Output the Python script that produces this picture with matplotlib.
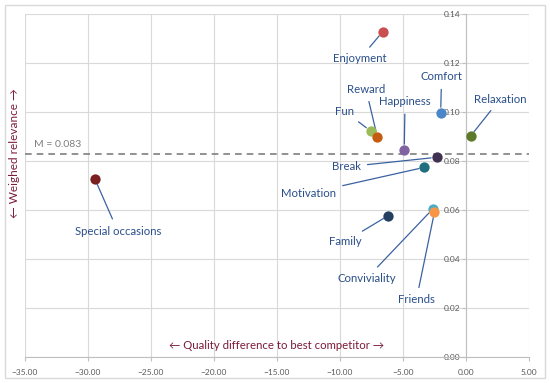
import matplotlib
matplotlib.use("Agg")
from matplotlib import pyplot as plt

plt.rcParams['font.family'] = ['Lato', 'DejaVu Sans']

names = ["Enjoyment", "Comfort", "Relaxation", "Fun", "Reward", "Happiness",
         "Break", "Motivation", "Family", "Conviviality", "Friends",
         "Special occasions"]
quality = [-6.61, -2.01, 0.37, -7.56, -7.04, -4.90, -2.33, -3.31, -6.17,
           -2.64, -2.50, -29.44]
relevance = [0.1328, 0.0997, 0.0902, 0.0922, 0.0899, 0.0846, 0.0815, 0.0774,
             0.0577, 0.0604, 0.0592, 0.0725]
colors = ["#C9504F", "#4A86C8", "#5C7A29", "#9BBB59", "#C55A11", "#8064A2",
          "#403152", "#1F6E7F", "#243F60", "#4BACC6", "#F79646", "#7B2020"]
# where each label sits (data coords)
label_x = [-8.41, -1.94, 2.70, -9.66, -7.94, -4.84, -9.52, -12.51, -9.60,
           -7.88, -3.94, -27.64]
label_y = [0.1218, 0.1143, 0.1053, 0.1004, 0.1093, 0.1042, 0.0776, 0.0668,
           0.0471, 0.0321, 0.0233, 0.0514]
mean_relevance = 0.083

xticks = [-35, -30, -25, -20, -15, -10, -5, 0, 5]
yticks = [0.00, 0.02, 0.04, 0.06, 0.08, 0.10, 0.12, 0.14]

fig = plt.figure(figsize=(5.5, 3.83), dpi=100)
ax = fig.add_axes([0.0455, 0.068, 0.9163, 0.8954])

# frame around the whole chart
fig.patches.append(plt.Rectangle((0.009, 0.012), 0.982, 0.975, transform=fig.transFigure,
                                 fill=False, edgecolor="#D9D9D9", linewidth=1))

ax.set_xlim(-35, 5)
ax.set_ylim(0, 0.14)
ax.set_xticks(xticks)
ax.set_yticks(yticks)
ax.set_xticklabels([f"{t:.2f}".replace("-", "\u2212") for t in xticks])
ax.set_yticklabels([f"{t:.2f}" for t in yticks])
ax.grid(True, color="#D9D9D9", linewidth=0.8)
ax.set_axisbelow(True)

for s in ["top", "right"]:
    ax.spines[s].set_visible(False)
ax.spines["left"].set_position(("data", 0))
ax.spines["left"].set_color("#BFBFBF")
ax.spines["bottom"].set_color("#BFBFBF")
ax.tick_params(axis="both", labelsize=6, labelcolor="#595959", color="#BFBFBF",
               length=3, width=0.8)
ax.tick_params(axis="x", pad=6)
ax.tick_params(axis="y", pad=1)

# mean line
ax.axhline(mean_relevance, color="#7F7F7F", linestyle=(0, (4, 3)), linewidth=1.2, zorder=2)
ax.text(-34.3, mean_relevance + 0.0018, "M = 0.083", fontsize=7.5, color="#7F7F7F",
        ha="left", va="bottom")

for n, qx, ry, c, lx, ly in zip(names, quality, relevance, colors, label_x, label_y):
    ax.annotate(n, xy=(qx, ry), xytext=(lx, ly), fontsize=8.2, color="#2A4E8A",
                ha="center", va="center",
                arrowprops=dict(arrowstyle="-", color="#3A62A0", linewidth=0.9,
                                shrinkA=3, shrinkB=4))
    ax.scatter(qx, ry, s=55, color=c, zorder=4, linewidths=0)

ax.text(-15.0, 0.0047, "\u2190 Quality difference to best competitor \u2192", fontsize=8.2,
        color="#7B1C3A", ha="center", va="center")
fig.text(0.026, 0.60, "\u2190 Weighed relevance \u2192", fontsize=8.5, color="#7B1C3A",
         rotation=90, ha="center", va="center")

fig.savefig("out.png", dpi=100)
